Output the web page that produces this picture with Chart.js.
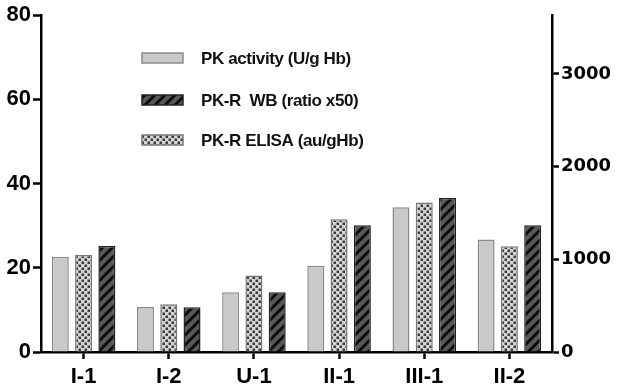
<!DOCTYPE html>
<html>
<head>
<meta charset="utf-8">
<script src="https://cdn.jsdelivr.net/npm/chart.js@4"></script>
<style>
  html, body { margin: 0; padding: 0; background: #fff; }
</style>
</head>
<body>
<canvas id="chart" width="620" height="390"></canvas>
<script>
// values
const categories = ['I-1', 'I-2', 'U-1', 'II-1', 'III-1', 'II-2'];
const pkActivity = [22.6, 10.7, 14.2, 20.5, 34.4, 26.7];   // left axis
const pkrWB = [25.2, 10.6, 14.2, 30.1, 36.6, 30.1];        // left axis (ratio x50)
const pkrElisa = [1046, 516, 825, 1433, 1613, 1140];       // right axis
const leftTicks = [0, 20, 40, 60, 80];
const rightTicks = [0, 1000, 2000, 3000];
const legendLabels = ['PK activity (U/g Hb)', 'PK-R  WB (ratio x50)', 'PK-R ELISA (au/gHb)'];

const ctx = document.getElementById('chart');
const c2d = ctx.getContext('2d');

// hatch: dark grey with black "/" stripes
function makeHatch() {
    const p = document.createElement('canvas');
    p.width = 10; p.height = 10;
    const g = p.getContext('2d');
    g.fillStyle = '#585858';
    g.fillRect(0, 0, 10, 10);
    g.strokeStyle = '#0d0d0d';
    g.lineWidth = 3;
    g.beginPath();
    g.moveTo(-2, 12); g.lineTo(12, -2);
    g.moveTo(-2, 2); g.lineTo(2, -2);
    g.moveTo(8, 12); g.lineTo(12, 8);
    g.stroke();
    return c2d.createPattern(p, 'repeat');
}

// checker dots
function makeDots() {
    const p = document.createElement('canvas');
    p.width = 6; p.height = 6;
    const g = p.getContext('2d');
    g.fillStyle = '#d4d4d4';
    g.fillRect(0, 0, 6, 6);
    g.fillStyle = '#3a3a3a';
    g.fillRect(0.5, 0.5, 2.5, 2.5);
    g.fillRect(3.5, 3.5, 2.5, 2.5);
    return c2d.createPattern(p, 'repeat');
}

const hatch = makeHatch();
const dots = makeDots();
const grayFill = '#c9c9c9';

// legend drawn inside the plot area, like the original
const insideLegend = {
    id: 'insideLegend',
    afterDraw(chart) {
        const g = chart.ctx;
        const items = [
            { fill: grayFill, stroke: '#8a8a8a' },
            { fill: hatch, stroke: '#222' },
            { fill: dots, stroke: '#777' }
        ];
        const ys = [58, 100, 140];
        g.save();
        items.forEach((it, i) => {
            g.fillStyle = it.fill;
            g.fillRect(142, ys[i] - 5, 41, 10);
            g.strokeStyle = it.stroke;
            g.lineWidth = 1.5;
            g.strokeRect(142, ys[i] - 5, 41, 10);
            g.fillStyle = '#111';
            g.font = 'bold 17px "Liberation Sans"';
            g.letterSpacing = '-0.4px';
            g.textBaseline = 'middle';
            g.fillText(legendLabels[i], 201, ys[i] + 1);
        });
        g.restore();
    }
};

const tickFont = { family: 'Liberation Sans', size: 22, weight: 'bold' };

new Chart(ctx, {
    type: 'bar',
    data: {
        labels: categories,
        datasets: [
            {
                label: legendLabels[0],
                data: pkActivity,
                yAxisID: 'y',
                backgroundColor: grayFill,
                borderColor: '#8a8a8a',
                borderWidth: 1.5,
                categoryPercentage: 0.82,
                barPercentage: 0.73
            },
            {
                label: legendLabels[2],
                data: pkrElisa,
                yAxisID: 'y2',
                backgroundColor: dots,
                borderColor: '#777',
                borderWidth: 1.5,
                categoryPercentage: 0.82,
                barPercentage: 0.73
            },
            {
                label: legendLabels[1],
                data: pkrWB,
                yAxisID: 'y',
                backgroundColor: hatch,
                borderColor: '#222',
                borderWidth: 1.5,
                categoryPercentage: 0.82,
                barPercentage: 0.73
            }
        ]
    },
    options: {
        responsive: false,
        animation: false,
        devicePixelRatio: 1,
        layout: { padding: { top: 14, left: 0, right: 0, bottom: 0 } },
        plugins: {
            legend: { display: false },
            tooltip: { enabled: false }
        },
        scales: {
            x: {
                offset: true,
                grid: {
                    display: true,
                    drawOnChartArea: false,
                    offset: false,
                    tickLength: 7,
                    tickWidth: 2.5,
                    tickColor: '#000'
                },
                border: { color: '#000', width: 2.5 },
                ticks: { color: '#000', font: tickFont, padding: 5 },
                afterFit: s => { s.height = 38; }
            },
            y: {
                position: 'left',
                min: 0,
                max: leftTicks[leftTicks.length - 1],
                afterBuildTicks: s => { s.ticks = leftTicks.map(v => ({ value: v })); },
                grid: {
                    drawOnChartArea: false,
                    tickLength: 8,
                    tickWidth: 2.5,
                    tickColor: '#000'
                },
                border: { color: '#000', width: 2.5 },
                ticks: { color: '#000', font: tickFont, padding: 2 },
                afterFit: s => { s.width = 41; }
            },
            y2: {
                position: 'right',
                min: 0,
                max: 3634,
                afterBuildTicks: s => { s.ticks = rightTicks.map(v => ({ value: v })); },
                grid: {
                    drawOnChartArea: false,
                    tickLength: 7,
                    tickWidth: 2.5,
                    tickColor: '#000'
                },
                border: { color: '#000', width: 2.5 },
                ticks: {
                    color: '#000',
                    font: { family: 'DejaVu Sans', size: 18, weight: 'bold' },
                    padding: 2,
                    callback: v => String(v)
                },
                afterFit: s => { s.width = 68; }
            }
        }
    },
    plugins: [insideLegend]
});
</script>
</body>
</html>
